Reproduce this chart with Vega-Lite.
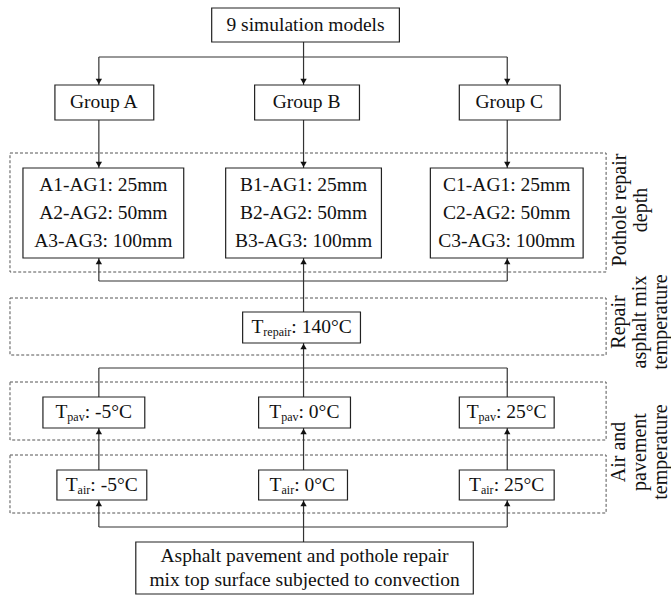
{
  "$schema": "https://vega.github.io/schema/vega-lite/v6.json",
  "width": 671,
  "height": 599,
  "padding": 0,
  "autosize": {"type": "fit", "contains": "padding"},
  "config": {"view": {"stroke": null}},
  "datasets": {
    "dashed": [
      {"x": 10, "x2": 607, "y": 153, "y2": 272},
      {"x": 10, "x2": 607, "y": 298, "y2": 355},
      {"x": 10, "x2": 607, "y": 382, "y2": 440},
      {"x": 10, "x2": 607, "y": 455, "y2": 513}
    ],
    "lines": [
      {"x": 304, "y": 42, "x2": 304, "y2": 85},
      {"x": 99, "y": 57, "x2": 508, "y2": 57},
      {"x": 99, "y": 57, "x2": 99, "y2": 85},
      {"x": 508, "y": 57, "x2": 508, "y2": 85},
      {"x": 99, "y": 120, "x2": 99, "y2": 168},
      {"x": 304, "y": 120, "x2": 304, "y2": 168},
      {"x": 508, "y": 120, "x2": 508, "y2": 168},
      {"x": 99, "y": 258, "x2": 99, "y2": 281},
      {"x": 304, "y": 258, "x2": 304, "y2": 312},
      {"x": 508, "y": 258, "x2": 508, "y2": 281},
      {"x": 99, "y": 281, "x2": 508, "y2": 281},
      {"x": 304, "y": 343, "x2": 304, "y2": 397},
      {"x": 99, "y": 368, "x2": 508, "y2": 368},
      {"x": 99, "y": 368, "x2": 99, "y2": 397},
      {"x": 508, "y": 368, "x2": 508, "y2": 397},
      {"x": 99, "y": 428, "x2": 99, "y2": 470},
      {"x": 304, "y": 428, "x2": 304, "y2": 470},
      {"x": 508, "y": 428, "x2": 508, "y2": 470},
      {"x": 99, "y": 500, "x2": 99, "y2": 527},
      {"x": 508, "y": 500, "x2": 508, "y2": 527},
      {"x": 99, "y": 527, "x2": 508, "y2": 527},
      {"x": 304, "y": 500, "x2": 304, "y2": 542}
    ],
    "boxes": [
      {"x": 212, "x2": 400, "y": 8, "y2": 42},
      {"x": 55, "x2": 154, "y": 85, "y2": 120},
      {"x": 255, "x2": 360, "y": 85, "y2": 120},
      {"x": 460, "x2": 561, "y": 85, "y2": 120},
      {"x": 23, "x2": 184, "y": 168, "y2": 258},
      {"x": 226, "x2": 382, "y": 168, "y2": 258},
      {"x": 431, "x2": 584, "y": 168, "y2": 258},
      {"x": 243, "x2": 361, "y": 312, "y2": 343},
      {"x": 43, "x2": 145, "y": 397, "y2": 428},
      {"x": 259, "x2": 351, "y": 397, "y2": 428},
      {"x": 460, "x2": 555, "y": 397, "y2": 428},
      {"x": 57, "x2": 147, "y": 470, "y2": 500},
      {"x": 259, "x2": 348, "y": 470, "y2": 500},
      {"x": 460, "x2": 555, "y": 470, "y2": 500},
      {"x": 136, "x2": 474, "y": 542, "y2": 594}
    ],
    "arrows": [
      {"x": 304, "y": 81.5, "dir": "down"},
      {"x": 99, "y": 81.5, "dir": "down"},
      {"x": 508, "y": 81.5, "dir": "down"},
      {"x": 99, "y": 164.5, "dir": "down"},
      {"x": 304, "y": 164.5, "dir": "down"},
      {"x": 508, "y": 164.5, "dir": "down"},
      {"x": 99, "y": 261.5, "dir": "up"},
      {"x": 304, "y": 261.5, "dir": "up"},
      {"x": 508, "y": 261.5, "dir": "up"},
      {"x": 304, "y": 346.5, "dir": "up"},
      {"x": 99, "y": 431.5, "dir": "up"},
      {"x": 304, "y": 431.5, "dir": "up"},
      {"x": 508, "y": 431.5, "dir": "up"},
      {"x": 99, "y": 503.5, "dir": "up"},
      {"x": 304, "y": 503.5, "dir": "up"},
      {"x": 508, "y": 503.5, "dir": "up"}
    ],
    "texts": [
      {"x": 306, "y": 31, "label": "9 simulation models"},
      {"x": 104, "y": 108, "label": "Group A"},
      {"x": 307, "y": 108, "label": "Group B"},
      {"x": 510, "y": 108, "label": "Group C"},
      {"x": 103.5, "y": 191, "label": "A1-AG1: 25mm"},
      {"x": 103.5, "y": 219, "label": "A2-AG2: 50mm"},
      {"x": 103.5, "y": 247, "label": "A3-AG3: 100mm"},
      {"x": 304, "y": 191, "label": "B1-AG1: 25mm"},
      {"x": 304, "y": 219, "label": "B2-AG2: 50mm"},
      {"x": 304, "y": 247, "label": "B3-AG3: 100mm"},
      {"x": 507.5, "y": 191, "label": "C1-AG1: 25mm"},
      {"x": 507.5, "y": 219, "label": "C2-AG2: 50mm"},
      {"x": 507.5, "y": 247, "label": "C3-AG3: 100mm"},
      {"x": 305, "y": 562, "label": "Asphalt pavement and pothole repair"},
      {"x": 305, "y": 586, "label": "mix top surface subjected to convection"}
    ],
    "pieces": [
      {"x": 251.8, "y": 333, "label": "T"},
      {"x": 291.8, "y": 333, "label": ": 140°C"},
      {"x": 55.5, "y": 418, "label": "T"},
      {"x": 84.8, "y": 418, "label": ": -5°C"},
      {"x": 269.7, "y": 418, "label": "T"},
      {"x": 299.0, "y": 418, "label": ": 0°C"},
      {"x": 467.4, "y": 418, "label": "T"},
      {"x": 496.7, "y": 418, "label": ": 25°C"},
      {"x": 65.8, "y": 491, "label": "T"},
      {"x": 90.5, "y": 491, "label": ": -5°C"},
      {"x": 270.0, "y": 491, "label": "T"},
      {"x": 294.7, "y": 491, "label": ": 0°C"},
      {"x": 469.7, "y": 491, "label": "T"},
      {"x": 494.4, "y": 491, "label": ": 25°C"}
    ],
    "subs": [
      {"x": 263.7, "y": 333, "label": "repair"},
      {"x": 67.4, "y": 418, "label": "pav"},
      {"x": 281.6, "y": 418, "label": "pav"},
      {"x": 479.3, "y": 418, "label": "pav"},
      {"x": 77.7, "y": 491, "label": "air"},
      {"x": 281.9, "y": 491, "label": "air"},
      {"x": 481.6, "y": 491, "label": "air"}
    ],
    "side": [
      {"x": 621, "y": 210, "label": "Pothole repair"},
      {"x": 642, "y": 210, "label": "depth"},
      {"x": 620, "y": 322, "label": "Repair"},
      {"x": 641, "y": 322, "label": "asphalt mix"},
      {"x": 662, "y": 322, "label": "temperature"},
      {"x": 620, "y": 452, "label": "Air and"},
      {"x": 641, "y": 452, "label": "pavement"},
      {"x": 662, "y": 452, "label": "temperature"}
    ]
  },
  "layer": [
    {
      "data": {"name": "dashed"},
      "mark": {"type": "rect", "fill": "white", "fillOpacity": 0, "stroke": "#555", "strokeWidth": 1, "strokeDash": [3, 2]},
      "encoding": {
        "x": {"field": "x", "type": "quantitative", "scale": {"domain": [0, 671], "nice": false, "zero": false}, "axis": null},
        "x2": {"field": "x2"},
        "y": {"field": "y", "type": "quantitative", "scale": {"domain": [599, 0], "nice": false, "zero": false}, "axis": null},
        "y2": {"field": "y2"}
      }
    },
    {
      "data": {"name": "lines"},
      "mark": {"type": "rule", "stroke": "#333", "strokeWidth": 1.2},
      "encoding": {
        "x": {"field": "x", "type": "quantitative", "scale": {"domain": [0, 671], "nice": false, "zero": false}, "axis": null},
        "x2": {"field": "x2"},
        "y": {"field": "y", "type": "quantitative", "scale": {"domain": [599, 0], "nice": false, "zero": false}, "axis": null},
        "y2": {"field": "y2"}
      }
    },
    {
      "data": {"name": "boxes"},
      "mark": {"type": "rect", "fill": "white", "stroke": "#222", "strokeWidth": 1.2},
      "encoding": {
        "x": {"field": "x", "type": "quantitative", "scale": {"domain": [0, 671], "nice": false, "zero": false}, "axis": null},
        "x2": {"field": "x2"},
        "y": {"field": "y", "type": "quantitative", "scale": {"domain": [599, 0], "nice": false, "zero": false}, "axis": null},
        "y2": {"field": "y2"}
      }
    },
    {
      "data": {"name": "arrows"},
      "mark": {"type": "point", "filled": true, "color": "#111", "opacity": 1, "size": 40},
      "encoding": {
        "x": {"field": "x", "type": "quantitative", "scale": {"domain": [0, 671], "nice": false, "zero": false}, "axis": null},
        "y": {"field": "y", "type": "quantitative", "scale": {"domain": [599, 0], "nice": false, "zero": false}, "axis": null},
        "shape": {"field": "dir", "type": "nominal", "scale": {"domain": ["up", "down"], "range": ["triangle-up", "triangle-down"]}, "legend": null}
      }
    },
    {
      "data": {"name": "texts"},
      "mark": {"type": "text", "font": "Liberation Serif", "fontSize": 19.5, "align": "center", "baseline": "alphabetic", "color": "#111"},
      "encoding": {
        "x": {"field": "x", "type": "quantitative", "scale": {"domain": [0, 671], "nice": false, "zero": false}, "axis": null},
        "y": {"field": "y", "type": "quantitative", "scale": {"domain": [599, 0], "nice": false, "zero": false}, "axis": null},
        "text": {"field": "label"}
      }
    },
    {
      "data": {"name": "pieces"},
      "mark": {"type": "text", "font": "Liberation Serif", "fontSize": 19.5, "align": "left", "baseline": "alphabetic", "color": "#111"},
      "encoding": {
        "x": {"field": "x", "type": "quantitative", "scale": {"domain": [0, 671], "nice": false, "zero": false}, "axis": null},
        "y": {"field": "y", "type": "quantitative", "scale": {"domain": [599, 0], "nice": false, "zero": false}, "axis": null},
        "text": {"field": "label"}
      }
    },
    {
      "data": {"name": "subs"},
      "mark": {"type": "text", "font": "Liberation Serif", "fontSize": 12, "align": "left", "baseline": "alphabetic", "dy": 3, "color": "#111"},
      "encoding": {
        "x": {"field": "x", "type": "quantitative", "scale": {"domain": [0, 671], "nice": false, "zero": false}, "axis": null},
        "y": {"field": "y", "type": "quantitative", "scale": {"domain": [599, 0], "nice": false, "zero": false}, "axis": null},
        "text": {"field": "label"}
      }
    },
    {
      "data": {"name": "side"},
      "mark": {"type": "text", "font": "Liberation Serif", "fontSize": 20, "align": "center", "baseline": "middle", "angle": 270, "color": "#111"},
      "encoding": {
        "x": {"field": "x", "type": "quantitative", "scale": {"domain": [0, 671], "nice": false, "zero": false}, "axis": null},
        "y": {"field": "y", "type": "quantitative", "scale": {"domain": [599, 0], "nice": false, "zero": false}, "axis": null},
        "text": {"field": "label"}
      }
    }
  ]
}
